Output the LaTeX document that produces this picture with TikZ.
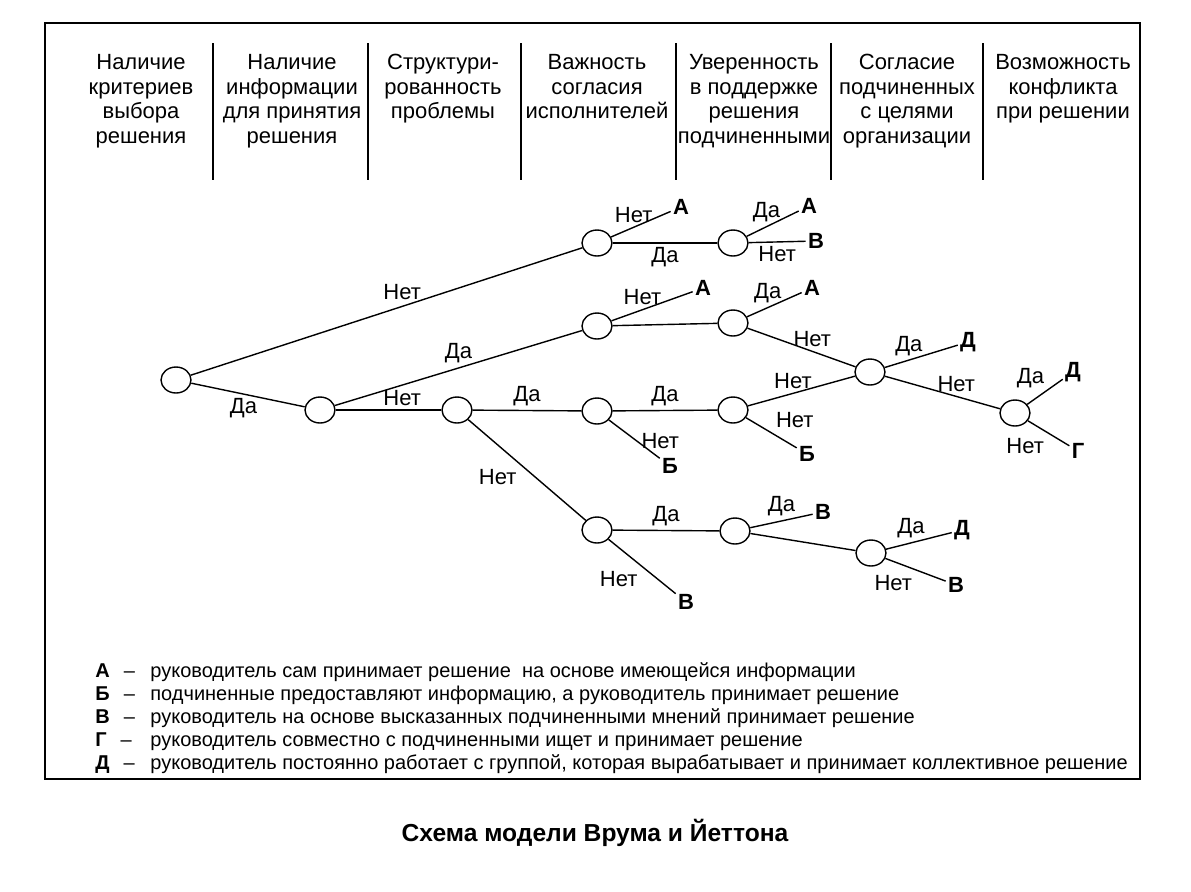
\documentclass[tikz,border=0pt]{standalone}
\usepackage{fontspec}
\setmainfont{Liberation Sans}
\usetikzlibrary{shapes.geometric}

\begin{document}
\begin{tikzpicture}[
  x=0.5pt,y=-0.5pt,
  font=\fontsize{11}{12.25}\selectfont,
  choice/.style={draw,ellipse,minimum width=15pt,minimum height=13pt,inner sep=0pt,line width=0.7pt},
  leaf/.style={font=\fontsize{11}{12}\selectfont\bfseries,inner sep=1pt},
  ans/.style={inner sep=2pt},
  head/.style={align=center,anchor=north,inner sep=0pt},
  key/.style={anchor=base west,inner sep=0pt,font=\fontsize{10}{11}\selectfont},
  branch/.style={line width=0.7pt},
  sep/.style={line width=0.6pt},
]
\useasboundingbox (0,0) rectangle (1191,891);
\draw[line width=0.8pt] (45,23) rectangle (1140,779);

% criteria along the top
\node[head] (h1) at (141,54) {Наличие\\критериев\\выбора\\решения};
\node[head] (h2) at (292,54) {Наличие\\информации\\для принятия\\решения};
\node[head] (h3) at (443,54) {Структури-\\рованность\\проблемы};
\node[head] (h4) at (597,54) {Важность\\согласия\\исполнителей};
\node[head] (h5) at (754,54) {Уверенность\\в поддержке\\решения\\подчиненными};
\node[head] (h6) at (907,54) {Согласие\\подчиненных\\с целями\\организации};
\node[head] (h7) at (1063,54) {Возможность\\конфликта\\при решении};
\draw[sep] (213,43) -- (213,180);
\draw[sep] (368,43) -- (368,180);
\draw[sep] (521,43) -- (521,180);
\draw[sep] (676,43) -- (676,180);
\draw[sep] (831,43) -- (831,180);
\draw[sep] (983,43) -- (983,180);

% decision points
\node[choice] (q0) at (176,380) {};
\node[choice] (q1) at (320,410) {};
\node[choice] (q2a) at (597,243) {};
\node[choice] (q2b) at (597,326) {};
\node[choice] (q2c) at (457,410) {};
\node[choice] (q3a) at (733,243) {};
\node[choice] (q3b) at (733,323) {};
\node[choice] (q3c) at (597,411) {};
\node[choice] (q3d) at (733,410) {};
\node[choice] (q3e) at (597,530) {};
\node[choice] (q4) at (735,531) {};
\node[choice] (q5) at (870,372) {};
\node[choice] (q6) at (1015,413) {};
\node[choice] (q7) at (871,553) {};

% outcomes
\node[leaf] (a1) at (681,207) {А};
\node[leaf] (a2) at (809,206) {А};
\node[leaf] (v1) at (816,241) {В};
\node[leaf] (a3) at (703,288) {А};
\node[leaf] (a4) at (812,288) {А};
\node[leaf] (d1) at (968,342) {Д};
\node[leaf] (d2) at (1073,372) {Д};
\node[leaf] (g1) at (1078,451) {Г};
\node[leaf] (b1) at (670,466) {Б};
\node[leaf] (b2) at (807,454) {Б};
\node[leaf] (v2) at (686,602) {В};
\node[leaf] (v3) at (823,512) {В};
\node[leaf] (d3) at (962,530) {Д};
\node[leaf] (v4) at (956,585) {В};

\draw[branch] (q0) -- node[ans,pos=.54,above=1pt] {Нет} (q2a);
\draw[branch] (q0) -- node[ans,pos=.46,below] {Да} (q1);
\draw[branch] (q1) -- node[ans,pos=.5,above] {Да} (q2b);
\draw[branch] (q1) -- node[ans,pos=.63,above] {Нет} (q2c);

\draw[branch] (q2a) -- node[ans,pos=.38,above] {Нет} (a1);
\draw[branch] (q2a) -- node[ans,pos=.5,below] {Да} (q3a);
\draw[branch] (q3a) -- node[ans,pos=.38,above] {Да} (a2);
\draw[branch] (q3a) -- node[ans,pos=.5,below] {Нет} (v1);

\draw[branch] (q2b) -- node[ans,pos=.38,above] {Нет} (a3);
\draw[branch] (q2b) -- (q3b);
\draw[branch] (q3b) -- node[ans,pos=.38,above] {Да} (a4);
\draw[branch] (q3b) -- node[ans,pos=.6,above] {Нет} (q5);

\draw[branch] (q5) -- node[ans,pos=.33,above] {Да} (d1);
\draw[branch] (q5) -- node[ans,pos=.62,above] {Нет} (q6);
\draw[branch] (q6) -- node[ans,pos=.55,above left=-1pt] {Да} (d2);
\draw[branch] (q6) -- node[ans,pos=.5,below left] {Нет} (g1);

\draw[branch] (q2c) -- node[ans,pos=.5,above] {Да} (q3c);
\draw[branch] (q2c) -- node[ans,pos=.45,below left] {Нет} (q3e);
\draw[branch] (q3c) -- node[ans,pos=.5,above] {Да} (q3d);
\draw[branch] (q3c) -- node[ans,pos=.55,right] {Нет} (b1);
\draw[branch] (q3d) -- node[ans,pos=.42,above] {Нет} (q5);
\draw[branch] (q3d) -- node[ans,pos=.5,above right] {Нет} (b2);

\draw[branch] (q3e) -- node[ans,pos=.5,above] {Да} (q4);
\draw[branch] (q3e) -- node[ans,pos=.5,below left] {Нет} (v2);
\draw[branch] (q4) -- node[ans,pos=.5,above] {Да} (v3);
\draw[branch] (q4) -- (q7);
\draw[branch] (q7) -- node[ans,pos=.38,above] {Да} (d3);
\draw[branch] (q7) -- node[ans,pos=.52,below left] {Нет} (v4);

% legend
\node[key] (kA) at (95,677) {\textbf{А}\hspace{7pt}–};
\node[key] (kB) at (95,700) {\textbf{Б}\hspace{7pt}–};
\node[key] (kV) at (95,723) {\textbf{В}\hspace{7pt}–};
\node[key] (kG) at (95,746) {\textbf{Г}\hspace{7pt}–};
\node[key] (kD) at (95,769) {\textbf{Д}\hspace{7pt}–};
\node[key] (tA) at (150,677) {руководитель сам принимает решение\ \ на основе имеющейся информации};
\node[key] (tB) at (150,700) {подчиненные предоставляют информацию, а руководитель принимает решение};
\node[key] (tV) at (150,723) {руководитель на основе высказанных подчиненными мнений принимает решение};
\node[key] (tG) at (150,746) {руководитель совместно с подчиненными ищет и принимает решение};
\node[key] (tD) at (150,769) {руководитель постоянно работает с группой, которая вырабатывает и принимает коллективное решение};

\node[font=\fontsize{12.3}{14}\selectfont\bfseries] (title) at (595,833) {Схема модели Врума и Йеттона};
\end{tikzpicture}
\end{document}
